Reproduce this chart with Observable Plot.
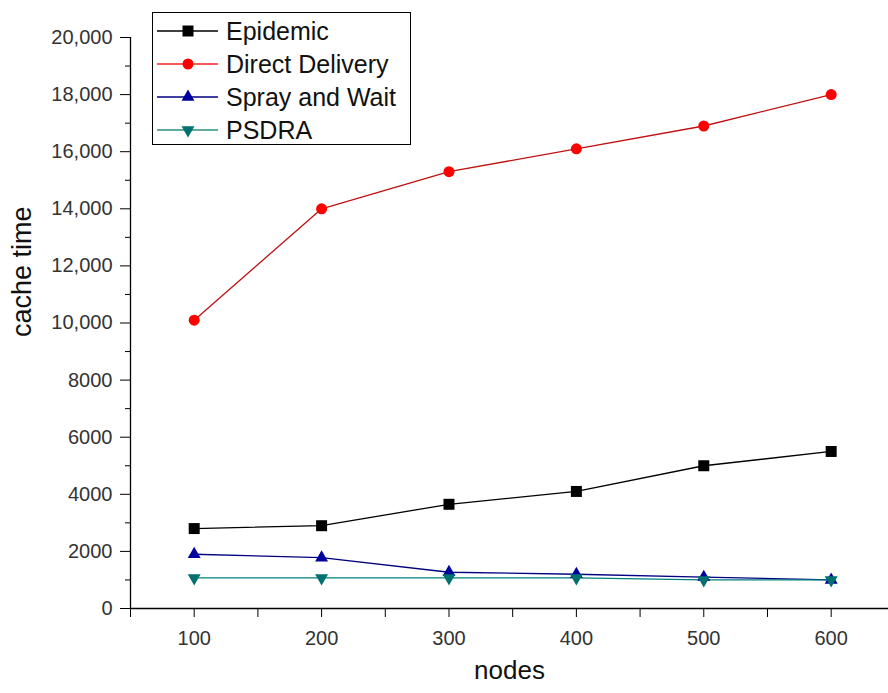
<!DOCTYPE html>
<html>
<head>
<meta charset="utf-8">
<script src="https://cdn.jsdelivr.net/npm/d3@7"></script>
<script src="https://cdn.jsdelivr.net/npm/@observablehq/plot@0.6"></script>
<style>
  html, body { margin: 0; padding: 0; background: white; }
  #wrap { position: relative; width: 888px; height: 693px; overflow: hidden; }
  #legend { position: absolute; left: 152px; top: 12px; width: 257px; height: 131px;
            border: 1.5px solid black; background: white; }
</style>
</head>
<body>
<div id="wrap"><div id="chart"></div><div id="legend"></div></div>
<script>
// ---- data ----
const nodes = [100, 200, 300, 400, 500, 600];
const epidemic = [2800, 2900, 3650, 4100, 5000, 5500];
const directDelivery = [10100, 14000, 15300, 16100, 16900, 18000];
const sprayAndWait = [1900, 1780, 1270, 1200, 1100, 1000];
const psdra = [1070, 1070, 1070, 1070, 1000, 1000];
const seriesNames = ["Epidemic", "Direct Delivery", "Spray and Wait", "PSDRA"];
const xMajorTicks = [100, 200, 300, 400, 500, 600];
const xMinorTicks = [50, 150, 250, 350, 450, 550];
const yMajorTicks = [0, 2000, 4000, 6000, 8000, 10000, 12000, 14000, 16000, 18000, 20000];
const yMinorTicks = [1000, 3000, 5000, 7000, 9000, 11000, 13000, 15000, 17000, 19000];

// ---- styles ----
const seriesValues = [epidemic, directDelivery, sprayAndWait, psdra];
const lineColors = ["#000000", "#c01010", "#000080", "#008080"];
const markerColors = ["#000000", "#ff0000", "#0000a0", "#007070"];
const legendLineColors = ["#000000", "#ff2020", "#000080", "#2a9080"];
const symbols = ["square", "circle", "triangle", "triangle"];
const rotations = [0, 0, 0, 180];
const radii = [6.2, 5.5, 4.8, 4.8];

const table = [];
seriesNames.forEach((s, i) => nodes.forEach((n, j) => table.push({series: s, nodes: n, value: seriesValues[i][j]})));

const yFmt = d => d >= 10000 ? d3.format(",")(d) : d3.format("d")(d);
const font = "'Liberation Sans', Arial, sans-serif";

const marks = [
  Plot.axisY({ticks: yMajorTicks, tickSize: 10, tickPadding: 8, fontSize: 20, tickFormat: yFmt, label: null, fill: "#333", stroke: "black"}),
  Plot.axisY({ticks: yMinorTicks, tickSize: 5, tickFormat: () => "", label: null, stroke: "black"}),
  Plot.axisX({ticks: xMajorTicks, tickSize: 9, tickPadding: 13, fontSize: 20, label: null, fill: "#333", stroke: "black"}),
  Plot.axisX({ticks: xMinorTicks, tickSize: 9, tickFormat: () => "", label: null, stroke: "black"}),
  Plot.ruleX([50], {stroke: "black", strokeWidth: 1.3}),
  Plot.ruleY([0], {stroke: "black", strokeWidth: 1.3}),
  Plot.text(["nodes"], {frameAnchor: "bottom", dy: 70, fontSize: 26, fill: "#111"}),
  Plot.text(["cache time"], {frameAnchor: "left", dx: -108, dy: 14, rotate: -90, fontSize: 27, fill: "#111"})
];
seriesNames.forEach((s, i) => {
  const rows = table.filter(d => d.series === s);
  marks.push(Plot.line(rows, {x: "nodes", y: "value", stroke: lineColors[i], strokeWidth: 1.3}));
});
seriesNames.forEach((s, i) => {
  const rows = table.filter(d => d.series === s);
  marks.push(Plot.dot(rows, {x: "nodes", y: "value", symbol: symbols[i], r: radii[i], rotate: rotations[i], fill: markerColors[i], stroke: "none"}));
});

const chart = Plot.plot({
  width: 888, height: 693,
  marginLeft: 130, marginRight: 0, marginTop: 37, marginBottom: 85,
  style: {fontFamily: font, background: "white", color: "black", overflow: "hidden"},
  x: {domain: [50, 645]},
  y: {domain: [0, 20000]},
  marks
});
document.getElementById("chart").append(chart);

// ---- legend ----
const lg = d3.select("#legend").append("svg").attr("width", 257).attr("height", 131).style("display", "block");
const symMap = {square: d3.symbolSquare, circle: d3.symbolCircle, triangle: d3.symbolTriangle};
seriesNames.forEach((s, i) => {
  const y = 18 + i * 33;
  const g = lg.append("g").attr("transform", `translate(0,${y})`);
  g.append("line").attr("x1", 4).attr("x2", 65).attr("y1", 0).attr("y2", 0)
    .attr("stroke", legendLineColors[i]).attr("stroke-width", 1.5);
  g.append("path").attr("d", d3.symbol(symMap[symbols[i]], Math.PI * radii[i] * radii[i])())
    .attr("transform", `translate(35,0) rotate(${rotations[i]})`).attr("fill", markerColors[i]);
  g.append("text").attr("x", 73).attr("y", 0).attr("dy", "0.36em")
    .attr("font-family", font).attr("font-size", 25).attr("fill", "#111").text(s);
});
</script>
</body>
</html>
